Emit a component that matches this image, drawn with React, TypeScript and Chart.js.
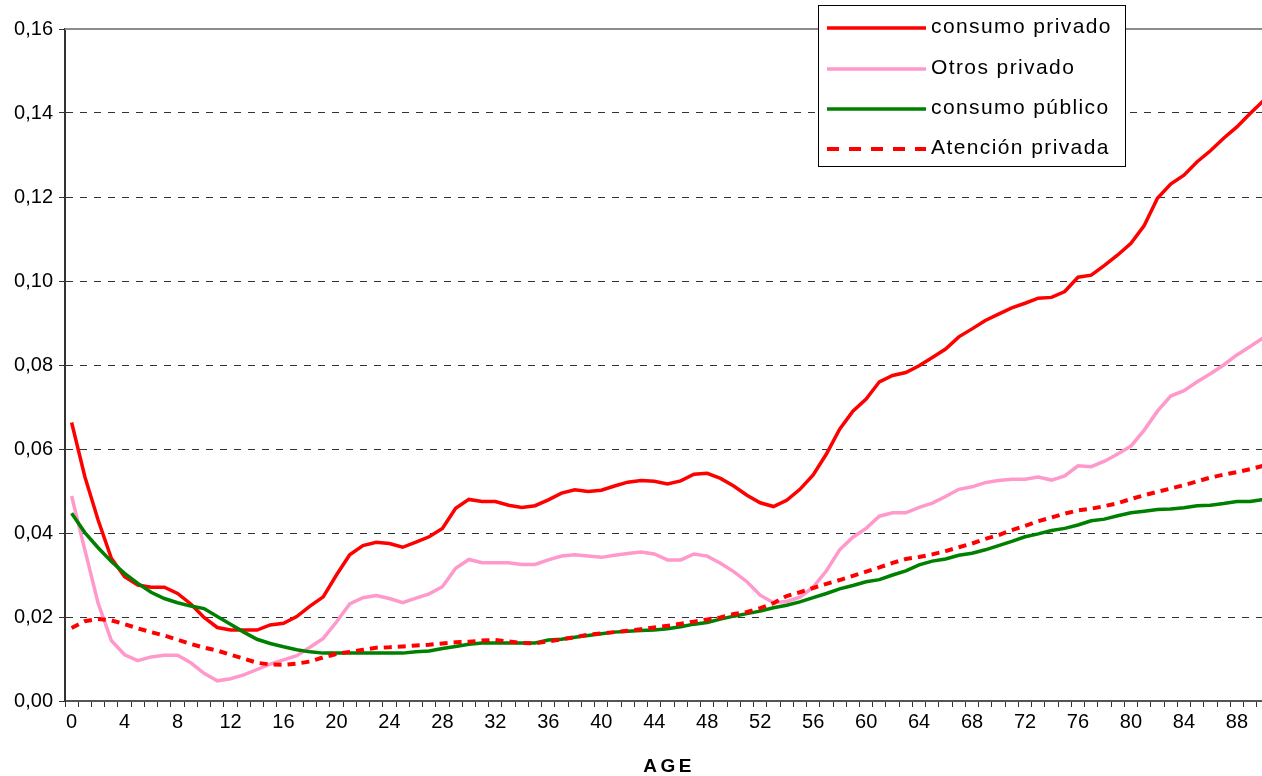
import React, { useEffect, useRef } from "react";
import { Chart, registerables } from "chart.js";

Chart.register(...registerables);

const ages: number[] = Array.from({ length: 91 }, (_, i) => i);

const consumoPrivado: number[] = [
  0.0663, 0.0534, 0.0431, 0.034, 0.0296, 0.0276, 0.0271, 0.0271, 0.0256, 0.0231,
  0.0199, 0.0175, 0.0169, 0.0169, 0.0169, 0.0181, 0.0185, 0.0201, 0.0226, 0.0248,
  0.03, 0.0348, 0.037, 0.0378, 0.0375, 0.0366, 0.0378, 0.0391, 0.0411, 0.0459,
  0.048, 0.0475, 0.0475, 0.0466, 0.0461, 0.0465, 0.0479, 0.0495, 0.0503, 0.0499,
  0.0502, 0.0512, 0.0521, 0.0525, 0.0523, 0.0517, 0.0524, 0.054, 0.0542, 0.053,
  0.0512, 0.049, 0.0472, 0.0463, 0.0478, 0.0504, 0.0538, 0.0588, 0.0647, 0.069,
  0.0719, 0.076, 0.0775, 0.0782, 0.0798, 0.0818, 0.0838, 0.0867, 0.0886, 0.0906,
  0.0921, 0.0936, 0.0947, 0.0959, 0.0961, 0.0975, 0.1009, 0.1014, 0.1037, 0.1062,
  0.109, 0.1132, 0.1197, 0.1231, 0.1252, 0.1284, 0.131, 0.134, 0.1367, 0.1399,
  0.1429,
];

const otrosPrivado: number[] = [
  0.0488, 0.036, 0.0233, 0.0144, 0.011, 0.0096, 0.0105, 0.0109, 0.0109, 0.0091,
  0.0066, 0.0048, 0.0053, 0.0062, 0.0075, 0.0088, 0.0098, 0.0108, 0.0128, 0.0149,
  0.0188, 0.0231, 0.0246, 0.0251, 0.0244, 0.0234, 0.0245, 0.0255, 0.0272, 0.0316,
  0.0337, 0.0329, 0.0329, 0.0329, 0.0325, 0.0325, 0.0336, 0.0345, 0.0348, 0.0345,
  0.0342, 0.0347, 0.0351, 0.0355, 0.035, 0.0336, 0.0336, 0.035, 0.0345, 0.0328,
  0.0308, 0.0284, 0.0252, 0.0234, 0.0237, 0.0247, 0.0271, 0.031, 0.036, 0.039,
  0.0411, 0.044, 0.0448, 0.0448, 0.0461, 0.0471, 0.0487, 0.0504, 0.051, 0.052,
  0.0525, 0.0528, 0.0528, 0.0533, 0.0526, 0.0536, 0.056, 0.0558, 0.0571, 0.0588,
  0.0607, 0.0645, 0.069, 0.0726, 0.0739, 0.076, 0.0779, 0.08, 0.0824, 0.0844,
  0.0865,
];

const consumoPublico: number[] = [
  0.0447, 0.0401, 0.0365, 0.0332, 0.0304, 0.028, 0.0259, 0.0244, 0.0234, 0.0226,
  0.022, 0.0201, 0.0183, 0.0164, 0.0147, 0.0137, 0.0129, 0.0122, 0.0117, 0.0114,
  0.0114, 0.0114, 0.0114, 0.0114, 0.0114, 0.0114, 0.0117, 0.0119, 0.0125, 0.013,
  0.0135, 0.0138, 0.0138, 0.0138, 0.0138, 0.0138, 0.0145, 0.0147, 0.0152, 0.0156,
  0.016, 0.0164, 0.0166, 0.0168, 0.0169, 0.0172, 0.0177, 0.0183, 0.0187, 0.0195,
  0.0202, 0.0208, 0.0214, 0.0222, 0.0228, 0.0236, 0.0246, 0.0256, 0.0267, 0.0275,
  0.0284, 0.0289, 0.03, 0.031, 0.0324, 0.0333, 0.0338, 0.0347, 0.0352, 0.036,
  0.037, 0.038, 0.0391, 0.0398, 0.0406, 0.0411, 0.0419, 0.0429, 0.0433, 0.0441,
  0.0448, 0.0452, 0.0456, 0.0457, 0.046, 0.0465, 0.0466, 0.047, 0.0475, 0.0475,
  0.048,
];

const atencionPrivada: number[] = [
  0.0174, 0.019, 0.0195, 0.0192, 0.0183, 0.0173, 0.0164, 0.0156, 0.0146, 0.0136,
  0.0127, 0.012, 0.011, 0.0101, 0.0091, 0.0087, 0.0086, 0.0089, 0.0094, 0.0104,
  0.0112, 0.0117, 0.0122, 0.0127, 0.0128, 0.013, 0.0132, 0.0134, 0.0137, 0.014,
  0.0141, 0.0144, 0.0145, 0.0142, 0.0138, 0.0137, 0.0142, 0.0147, 0.0152, 0.0158,
  0.0161, 0.0164, 0.0167, 0.0171, 0.0175, 0.0179, 0.0184, 0.0189, 0.0194, 0.0199,
  0.0207, 0.0212, 0.0221, 0.0233, 0.025, 0.0259, 0.0269, 0.0279, 0.0288, 0.0298,
  0.0308, 0.0318, 0.0329, 0.0338, 0.0343, 0.0349, 0.0357, 0.0366, 0.0375, 0.0386,
  0.0395, 0.0407, 0.0417, 0.0428, 0.0437, 0.0446, 0.0454, 0.0458, 0.0464, 0.0471,
  0.0481, 0.049, 0.0498, 0.0506, 0.0514, 0.0523, 0.0532, 0.0539, 0.0545, 0.0552,
  0.056,
];

const seriesNames: string[] = [
  "consumo privado",
  "Otros privado",
  "consumo público",
  "Atención privada",
];
const seriesColors: string[] = ["#FF0000", "#FF99CC", "#008000", "#FF0000"];
const xTitle = "AGE";
const yMin = 0;
const yMax = 0.16;
const yStep = 0.02;
const xLabelEvery = 4;

const FONT = 'Arial, "Liberation Sans", sans-serif';

const overlayPlugin = {
  id: "overlay",
  afterDraw(chart: any) {
    const ctx = chart.ctx as CanvasRenderingContext2D;
    const { left, right, top } = chart.chartArea;
    ctx.save();
    // top plot border
    ctx.strokeStyle = "#8c8c8c";
    ctx.lineWidth = 2;
    ctx.setLineDash([]);
    ctx.beginPath();
    ctx.moveTo(left, top);
    ctx.lineTo(right, top);
    ctx.stroke();

    // legend box
    const bx = 818.5, by = 5.5, bw = 307, bh = 161;
    ctx.fillStyle = "#ffffff";
    ctx.fillRect(bx, by, bw, bh);
    ctx.strokeStyle = "#000000";
    ctx.lineWidth = 1;
    ctx.strokeRect(bx, by, bw, bh);

    const rowsY = [28, 69, 109, 149];
    const widths = [3.5, 3.5, 3.5, 4];
    for (let i = 0; i < seriesNames.length; i++) {
      const y = rowsY[i];
      ctx.strokeStyle = seriesColors[i];
      ctx.lineWidth = widths[i];
      ctx.lineCap = "butt";
      ctx.setLineDash(i === 3 ? [12, 10] : []);
      ctx.beginPath();
      ctx.moveTo(827, y);
      ctx.lineTo(926, y);
      ctx.stroke();
      ctx.setLineDash([]);
      ctx.fillStyle = "#000000";
      ctx.font = `21px ${FONT}`;
      (ctx as any).letterSpacing = "1.4px";
      ctx.textAlign = "left";
      ctx.textBaseline = "middle";
      ctx.fillText(seriesNames[i], 931, y - 1);
    }

    // x title
    ctx.font = `bold 19px ${FONT}`;
    (ctx as any).letterSpacing = "3.5px";
    ctx.textAlign = "center";
    ctx.textBaseline = "middle";
    ctx.fillStyle = "#000000";
    ctx.fillText(xTitle, 669, 767);
    (ctx as any).letterSpacing = "0px";
    ctx.restore();
  },
};

export default function App() {
  const canvasRef = useRef<HTMLCanvasElement | null>(null);

  useEffect(() => {
    document.body.style.margin = "0";
    const canvas = canvasRef.current;
    if (!canvas) return;
    const chart = new Chart(canvas, {
      type: "line",
      data: {
        labels: ages.map((a) => String(a)),
        datasets: [
          {
            label: seriesNames[0],
            data: consumoPrivado,
            borderColor: seriesColors[0],
            borderWidth: 3.5,
            pointRadius: 0,
            tension: 0,
            order: 3,
          },
          {
            label: seriesNames[1],
            data: otrosPrivado,
            borderColor: seriesColors[1],
            borderWidth: 3.5,
            pointRadius: 0,
            tension: 0,
            order: 2,
          },
          {
            label: seriesNames[2],
            data: consumoPublico,
            borderColor: seriesColors[2],
            borderWidth: 3.5,
            pointRadius: 0,
            tension: 0,
            order: 1,
          },
          {
            label: seriesNames[3],
            data: atencionPrivada,
            borderColor: seriesColors[3],
            borderWidth: 4,
            borderDash: [8, 6],
            borderCapStyle: "butt",
            pointRadius: 0,
            tension: 0,
            order: 0,
          },
        ],
      },
      options: {
        responsive: false,
        animation: false,
        devicePixelRatio: 1,
        layout: { padding: { top: 29, left: 0, right: 0, bottom: 0 } },
        plugins: {
          legend: { display: false },
          tooltip: { enabled: false },
          title: { display: false },
        },
        scales: {
          x: {
            type: "category",
            offset: true,
            grid: {
              display: true,
              offset: true,
              drawOnChartArea: false,
              drawTicks: true,
              tickLength: 6,
              color: "#333333",
              lineWidth: 1,
            },
            border: { display: true, color: "#555555", width: 2 },
            ticks: {
              autoSkip: false,
              maxRotation: 0,
              minRotation: 0,
              padding: 3,
              color: "#000000",
              font: { family: FONT, size: 20 },
              callback: function (_v: any, index: number) {
                return index % xLabelEvery === 0 ? String(ages[index]) : "";
              },
            },
            afterFit: (scale: any) => {
              scale.height = 75;
            },
          },
          y: {
            min: yMin,
            max: yMax,
            grid: {
              display: true,
              drawOnChartArea: true,
              drawTicks: true,
              tickLength: 6,
              color: "#333333",
              lineWidth: 1,
            },
            border: { display: true, color: "#333333", width: 2, dash: [7, 7] },
            ticks: {
              stepSize: yStep,
              padding: 6,
              color: "#000000",
              font: { family: FONT, size: 20 },
              callback: (v: any) => Number(v).toFixed(2).replace(".", ","),
            },
            afterFit: (scale: any) => {
              scale.width = 65;
            },
          },
        },
      },
      plugins: [overlayPlugin],
    });
    return () => chart.destroy();
  }, []);

  return (
    <div
      style={{
        width: 1262,
        height: 776,
        overflow: "hidden",
        position: "relative",
        background: "#ffffff",
      }}
    >
      <canvas ref={canvasRef} width={1270} height={776} style={{ display: "block" }} />
    </div>
  );
}
